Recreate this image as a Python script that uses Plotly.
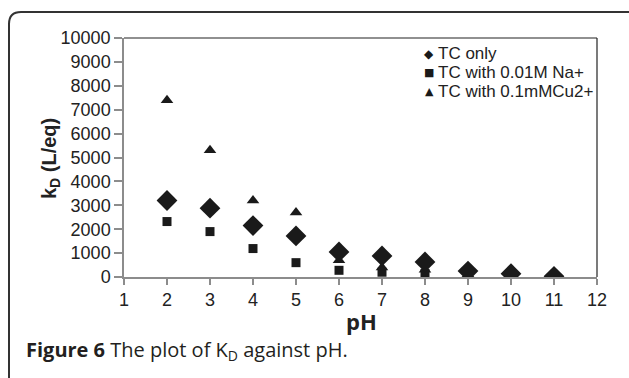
import plotly.graph_objects as go

ph_tc = [2, 3, 4, 5, 6, 7, 8, 9, 10, 11]
kd_tc = [3200, 2880, 2150, 1720, 1050, 880, 630, 250, 140, 30]

ph_na = [2, 3, 4, 5, 6, 7, 8, 9, 10]
kd_na = [2320, 1900, 1190, 600, 280, 200, 150, 50, 30]

ph_cu = [2, 3, 4, 5, 6, 7, 8, 9, 10]
kd_cu = [7400, 5300, 3200, 2700, 700, 400, 300, 120, 60]

series_names = ["TC only", "TC with 0.01M Na+", "TC with 0.1mMCu2+"]
legend_glyphs = ["\u25C6", "\u25A0", "\u25B2"]
x_ticks = list(range(1, 13))
y_ticks = list(range(0, 10001, 1000))
y_ticktext = [str(v) for v in y_ticks]

W, H = 629, 378
L, R, T, B = 124, 32, 38, 101
pw, ph = W - L - R, H - T - B

def px(x):
    return (x - L) / pw

def py(y):
    return (H - B - y) / ph

fig = go.Figure()
fig.add_trace(go.Scatter(x=ph_na, y=kd_na, mode="markers", name=series_names[1],
                         marker=dict(symbol="square", size=9, color="#1a1a1a")))
fig.add_trace(go.Scatter(x=ph_cu, y=kd_cu, mode="markers", name=series_names[2],
                         marker=dict(symbol="triangle-up", size=11, color="#1a1a1a")))
fig.add_trace(go.Scatter(x=ph_tc, y=kd_tc, mode="markers", name=series_names[0],
                         marker=dict(symbol="diamond", size=16, color="#1a1a1a")))

axis_font = dict(family="Liberation Sans, Arial, sans-serif", size=18, color="#222")
fig.update_xaxes(range=[1, 12], tickvals=x_ticks, showgrid=False, zeroline=False,
                 showline=True, linecolor="#8c8c8c", linewidth=1.5,
                 ticks="outside", ticklen=6, tickcolor="#8c8c8c", tickwidth=1.5,
                 tickfont=axis_font)
fig.update_yaxes(range=[0, 10000], tickvals=y_ticks, ticktext=y_ticktext,
                 showgrid=False, zeroline=False,
                 showline=True, linecolor="#8c8c8c", linewidth=1.5,
                 ticks="outside", ticklen=8, tickcolor="#8c8c8c", tickwidth=1.5,
                 tickfont=axis_font)

shapes = [
    dict(type="line", xref="paper", yref="paper", x0=0, x1=1, y0=1, y1=1,
         line=dict(color="#222", width=1.2)),
    dict(type="line", xref="paper", yref="paper", x0=1, x1=1, y0=0, y1=1,
         line=dict(color="#222", width=1.2)),
]
# rounded outer frame
fl, ft, fr, fb, rad = 9, 12, 650, 400, 12
path = (f"M {px(fl)},{py(fb)} L {px(fl)},{py(ft + rad)} "
        f"Q {px(fl)},{py(ft)} {px(fl + rad)},{py(ft)} L {px(fr)},{py(ft)}")
shapes.append(dict(type="path", xref="paper", yref="paper", path=path,
                   line=dict(color="#333", width=2)))

annotations = []
# legend
leg_y = [54, 72.5, 91]
for i, (g, name) in enumerate(zip(legend_glyphs, series_names)):
    annotations.append(dict(xref="paper", yref="paper", x=px(429), y=py(leg_y[i]),
                            text=g, showarrow=False, xanchor="center", yanchor="middle",
                            font=dict(family="DejaVu Sans", size=11 if i != 0 else 12, color="#1a1a1a")))
    annotations.append(dict(xref="paper", yref="paper", x=px(436), y=py(leg_y[i]),
                            text=name, showarrow=False, xanchor="left", yanchor="middle",
                            font=dict(family="Liberation Sans, Arial, sans-serif", size=17, color="#222")))
# axis titles
annotations.append(dict(xref="paper", yref="paper", x=px(50), y=py(159),
                        text="<b>k<sub>D</sub> (L/eq)</b>", textangle=-90, showarrow=False,
                        xanchor="center", yanchor="middle",
                        font=dict(family="Liberation Sans, Arial, sans-serif", size=20, color="#222")))
annotations.append(dict(xref="paper", yref="paper", x=px(361), y=py(321),
                        text="<b>pH</b>", showarrow=False, xanchor="center", yanchor="middle",
                        font=dict(family="Open Sans, sans-serif", size=22, color="#222")))
# caption
annotations.append(dict(xref="paper", yref="paper", x=px(24), y=py(350),
                        text="<b>Figure 6</b> The plot of K<sub>D</sub> against pH.",
                        showarrow=False, xanchor="left", yanchor="middle",
                        font=dict(family="Open Sans, sans-serif", size=20, color="#231f20")))

fig.update_layout(width=W, height=H, margin=dict(l=L, r=R, t=T, b=B),
                  paper_bgcolor="white", plot_bgcolor="white", showlegend=False,
                  shapes=shapes, annotations=annotations)

fig.write_html("out.html")
